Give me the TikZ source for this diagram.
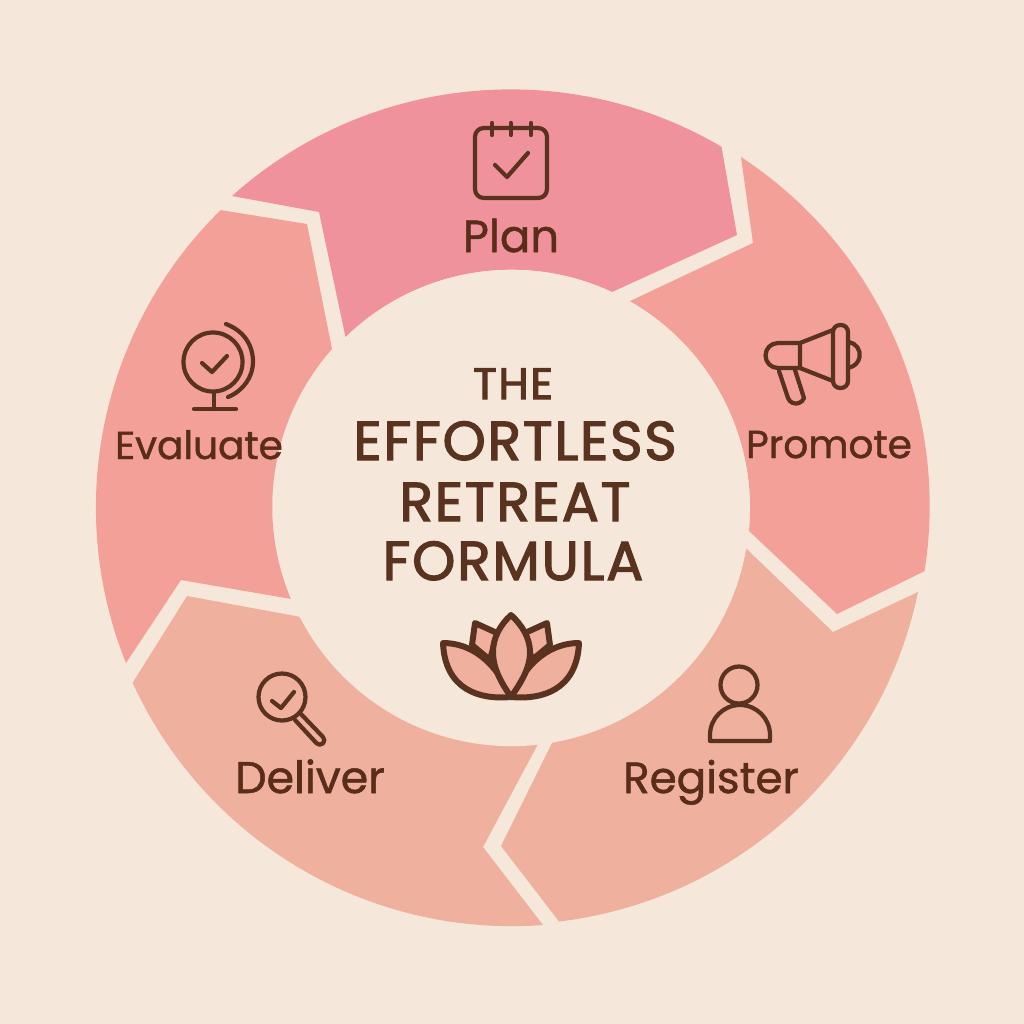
\documentclass[tikz,border=0pt]{standalone}
\usepackage{fontspec}
\setmainfont{Poppins}
\newfontfamily\titlefont[LetterSpace=3.5,FakeBold=2.4]{Poppins}
\newfontfamily\stepfont[FakeBold=1.2]{Poppins}
\definecolor{paper}{HTML}{F5E8DA}
\definecolor{planpink}{HTML}{F0929B}
\definecolor{midpink}{HTML}{F3A198}
\definecolor{lowpink}{HTML}{EFB09E}
\definecolor{ink}{HTML}{5A2D1B}
\definecolor{iconink}{HTML}{5A3220}
\begin{document}
\begin{tikzpicture}[x=.01cm,y=-.01cm,
step label/.style={font=\stepfont\fontsize{#1}{16}\selectfont,text=ink,anchor=base,inner sep=0pt},
title line/.style={font=\titlefont\fontsize{#1}{16}\selectfont,text=iconink,anchor=base,inner sep=0pt},
icon line/.style={draw=iconink,line width=1.2pt,line cap=round,line join=round},
petal/.style={draw=iconink,fill=lowpink,line width=1.7pt,line join=round}]
\fill[paper] (0,0) rectangle (1024,1024);
\useasboundingbox (0,0) rectangle (1024,1024);

% Plan segment
  \fill[planpink] (232,196) arc[start angle=-131.9,end angle=-59.6,radius=417]
    -- (737,235) -- (612,292) arc[start angle=-65,end angle=-134.2,radius=238]
    -- (319,212) -- cycle;

% Promote segment
  \fill[midpink] (741,157) arc[start angle=-56.8,end angle=9,radius=417]
    -- (837,614) -- (749,531) arc[start angle=5.5,end angle=-60.4,radius=238]
    -- (753,243) -- cycle;

% Register segment
  \fill[lowpink] (918,592) arc[start angle=11.7,end angle=83.2,radius=417]
    -- (501,846) -- (553,741) arc[start angle=79.9,end angle=10,radius=238]
    -- (833,632) -- cycle;

% Deliver segment
  \fill[lowpink] (543,925) arc[start angle=85.7,end angle=155.4,radius=417]
    -- (187,596) -- (301,617) arc[start angle=152.6,end angle=83.8,radius=238]
    -- (483,847) -- cycle;

% Evaluate segment
  \fill[midpink] (126,663) arc[start angle=158.1,end angle=225.5,radius=417]
    -- (307,224) -- (332,349) arc[start angle=221.5,end angle=157.2,radius=238]
    -- (181,580) -- cycle;

% middle disc and title
  \node (hub) at (511.5,508) [circle,fill=paper,minimum size=4.76cm,inner sep=0pt] {};
  \node[title line=12.5] (the) at (513,399) {THE};
  \node[title line=15.6] (effortless) at (515,460) {EFFORTLESS};
  \node[title line=15.6] (retreat) at (515,521) {RETREAT};
  \node[title line=15.6] (formula) at (513,580) {FORMULA};

% step labels
  \node[step label=12.8] (plan) at (511,252) {Plan};
  \node[step label=11.1] (promote) at (829,458) {Promote};
  \node[step label=12.4] (register) at (711,793) {Register};
  \node[step label=12.6] (deliver) at (310,793) {Deliver};
  \node[step label=11.1] (evaluate) at (199,459) {Evaluate};

% calendar
  \draw[icon line,rounded corners=2.5pt] (475,128) rectangle (547,198);
  \draw[icon line] (492,123) -- (492,135) (511,123) -- (511,135) (531,123) -- (531,135);
  \draw[icon line] (495,165) -- (507,177) -- (528,153);

% megaphone
  \draw[icon line,rounded corners=2pt] (833,325) rectangle (848,388);
  \draw[icon line] (833,330) -- (800,343) -- (800,368) -- (833,381);
  \draw[icon line] (800,343) -- (778,343) arc[start angle=-90,end angle=-270,radius=12.5] -- (800,368);
  \draw[icon line] (779,371) -- (788,398) arc[start angle=160,end angle=20,radius=8.5] -- (795,370);
  \draw[icon line] (849,342) arc[start angle=-80,end angle=80,radius=13];

% person
  \draw[icon line] (739,685) circle (18.5);
  \draw[icon line] (710,741) -- (710,735) arc[start angle=-180,end angle=0,radius=30] -- (770,741) -- cycle;

% magnifier
  \draw[icon line] (282,697) circle (23.5);
  \draw[icon line] (301,714) -- (323,737) arc[start angle=-45,end angle=135,radius=4.5] -- (295,720);
  \draw[icon line] (272,701) -- (281,708) -- (294,692);

% globe
  \draw[icon line] (213,362) circle (29.5);
  \draw[icon line] (226,324) .. controls (244,331) and (253,345) .. (253,362)
    .. controls (253,377) and (243,391) .. (228,397);
  \draw[icon line] (214,392) -- (214,409) (194,409) -- (236,409);
  \draw[icon line] (202,363) -- (212,372) -- (227,356);

% lotus
  \draw[petal] (475,623) -- (497,633) -- (490,660) -- (472,645) -- cycle;
  \draw[petal] (547,623) -- (525,633) -- (532,660) -- (550,645) -- cycle;
  \draw[petal] (443,643) .. controls (470,643) and (495,660) .. (511,697)
    .. controls (480,700) and (445,690) .. (443,643) -- cycle;
  \draw[petal] (579,643) .. controls (552,643) and (527,660) .. (511,697)
    .. controls (542,700) and (577,690) .. (579,643) -- cycle;
  \draw[petal] (511,615) .. controls (500,625) and (493,638) .. (493,652)
    .. controls (493,670) and (503,685) .. (511,697)
    .. controls (519,685) and (530,670) .. (530,652)
    .. controls (530,638) and (522,625) .. (511,615) -- cycle;

\end{tikzpicture}
\end{document}
